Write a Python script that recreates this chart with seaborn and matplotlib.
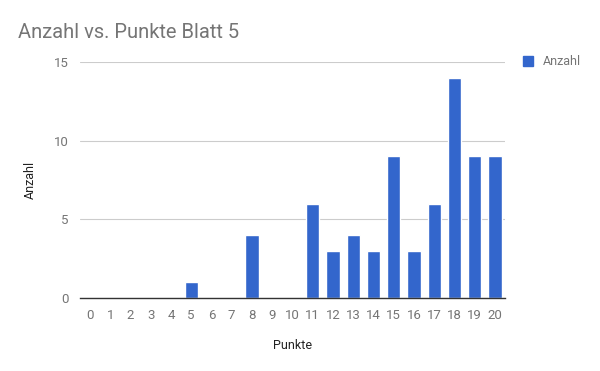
import matplotlib
matplotlib.use("Agg")
import matplotlib.pyplot as plt
import seaborn as sns
import pandas as pd
from matplotlib.patches import Patch

# Data
punkte = list(range(21))
anzahl = [0, 0, 0, 0, 0, 1, 0, 0, 4, 0, 0, 6, 3, 4, 3, 9, 3, 6, 14, 9, 9]

df = pd.DataFrame({"Punkte": [str(p) for p in punkte], "Anzahl": anzahl})

sns.set_style("white")
plt.rcParams["font.family"] = ["Roboto", "DejaVu Sans"]

bar_color = "#3366cc"
grey = "#757575"

fig = plt.figure(figsize=(6, 3.71), dpi=100)
ax = fig.add_axes([0.133, 0.197, 0.709, 0.636])

sns.barplot(data=df, x="Punkte", y="Anzahl", color=bar_color, width=0.65,
            saturation=1, ax=ax)

ax.set_ylim(0, 15)
ax.set_yticks([0, 5, 10, 15])
ax.set_xlim(-0.5, 20.5)
ax.yaxis.grid(True, color="#cccccc", linewidth=0.8)
ax.set_axisbelow(True)
for s in ["top", "right", "left"]:
    ax.spines[s].set_visible(False)
ax.spines["bottom"].set_color("#333333")
ax.spines["bottom"].set_linewidth(1)
ax.tick_params(axis="both", length=0, labelsize=9.5, colors=grey, pad=8)

ax.set_xlabel("Punkte", fontsize=9, color="#222222", labelpad=12)
ax.set_ylabel("Anzahl", fontsize=9, color="#222222", labelpad=12)

fig.text(0.03, 0.913, "Anzahl vs. Punkte Blatt 5", fontsize=14.5, color=grey,
         va="center", ha="left")

handle = Patch(facecolor=bar_color, edgecolor=bar_color)
fig.legend([handle], ["Anzahl"], loc="center left", bbox_to_anchor=(0.853, 0.833),
           frameon=False, fontsize=9, labelcolor=grey, handlelength=0.8,
           handleheight=0.8, handletextpad=0.8)

plt.savefig("out.png", dpi=100)
plt.close()
